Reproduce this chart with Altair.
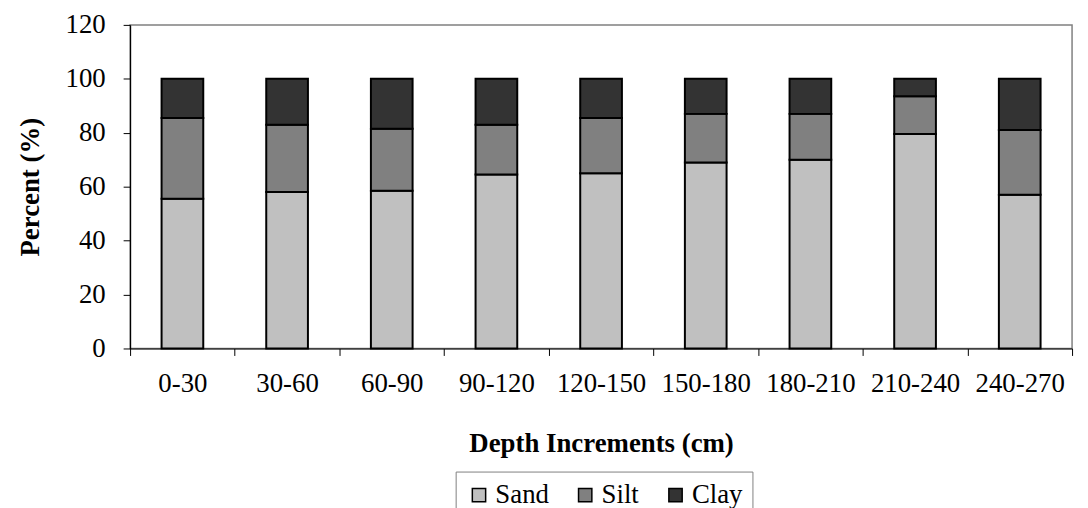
import altair as alt
import pandas as pd

depths = ["0-30", "30-60", "60-90", "90-120", "120-150", "150-180", "180-210", "210-240", "240-270"]
sand = [55.5, 58.0, 58.5, 64.5, 65.0, 69.0, 70.0, 79.5, 57.0]
silt = [30.0, 25.0, 23.0, 18.5, 20.5, 18.0, 17.0, 14.0, 24.0]
clay = [14.5, 17.0, 18.5, 17.0, 14.5, 13.0, 13.0, 6.5, 19.0]
components = ["Sand", "Silt", "Clay"]
colors = ["#c0c0c0", "#808080", "#333333"]

rows = []
for i, d in enumerate(depths):
    for k, (name, vals) in enumerate(zip(components, [sand, silt, clay])):
        rows.append({"Depth": d, "Component": name, "Percent": vals[i], "order": k})
df = pd.DataFrame(rows)

font = "Liberation Serif"
fs = 27

chart = alt.Chart(df).mark_bar(stroke="black", strokeWidth=2, width=42).encode(
    x=alt.X("Depth:N", sort=depths, scale=alt.Scale(paddingInner=0, paddingOuter=0),
            axis=alt.Axis(title="Depth Increments (cm)", labelAngle=0, tickBand="extent",
                          labelFontSize=fs, titleFontSize=fs, labelFont=font, titleFont=font,
                          titleFontWeight="bold", labelColor="black", titleColor="black",
                          domainColor="black", tickColor="black", tickSize=7,
                          labelPadding=15, titlePadding=35, domainWidth=1.2)),
    y=alt.Y("Percent:Q", stack="zero", scale=alt.Scale(domain=[0, 120], nice=False),
            axis=alt.Axis(title="Percent (%)", values=[0, 20, 40, 60, 80, 100, 120],
                          grid=False, labelFontSize=fs, titleFontSize=fs, labelFont=font,
                          titleFont=font, titleFontWeight="bold", labelColor="black",
                          titleColor="black", domainColor="black", tickColor="black",
                          tickSize=7, labelPadding=18, titlePadding=21, domainWidth=1.2)),
    color=alt.Color("Component:N", sort=components,
                    scale=alt.Scale(domain=components, range=colors),
                    legend=alt.Legend(title=None, orient="none", direction="horizontal",
                                      legendX=328, legendY=450, symbolType="square",
                                      symbolSize=180, symbolStrokeColor="black",
                                      symbolStrokeWidth=1.5, labelFontSize=fs, labelFont=font,
                                      labelColor="black", strokeColor="#808080",
                                      padding=10, columnPadding=23, labelOffset=3,
                                      fillColor="white")),
    order=alt.Order("order:Q", sort="ascending"),
).properties(
    width=949, height=326,
    autosize=alt.AutoSizeParams(type="none"),
    padding={"left": 123, "top": 15, "right": 8, "bottom": 200},
).configure(font=font).configure_view(stroke="#808080", strokeWidth=1.5).configure_legend(
    labelFont=font, labelFontSize=fs)

chart.save("out.html", embed_options={"renderer": "svg", "actions": False})
